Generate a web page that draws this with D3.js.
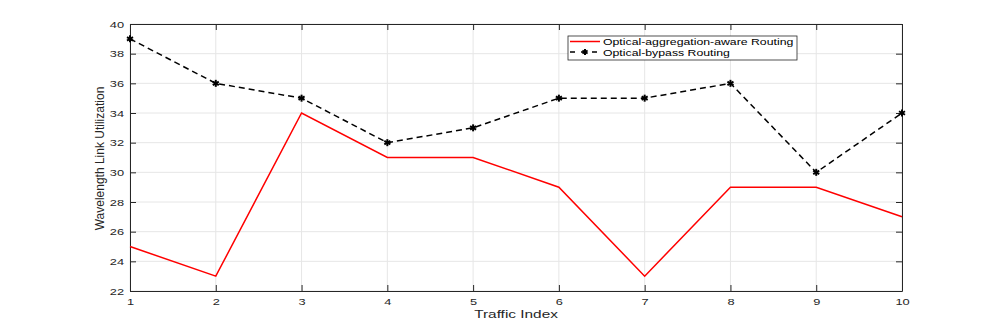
<!DOCTYPE html>
<html>
<head>
<meta charset="utf-8">
<script src="https://cdn.jsdelivr.net/npm/d3@7"></script>
<style>
  body { margin: 0; background: #fff; }
  svg { font-family: "Liberation Sans", Arial, sans-serif; }
</style>
</head>
<body>
<svg id="chart"></svg>
<script>
// data
var trafficIndex = [1, 2, 3, 4, 5, 6, 7, 8, 9, 10];
var aggregationAware = [25, 23, 34, 31, 31, 29, 23, 29, 29, 27];
var bypass = [39, 36, 35, 32, 33, 35, 35, 36, 30, 34];
var yTicks = [22, 24, 26, 28, 30, 32, 34, 36, 38, 40];
var seriesNames = ["Optical-aggregation-aware Routing", "Optical-bypass Routing"];

var width = 997, height = 327;
var margin = {left: 130, right: 95, top: 24, bottom: 36};
var plotW = width - margin.left - margin.right;
var plotH = height - margin.top - margin.bottom;
var sx = 1.35; // the figure is stretched sideways, text too

var svg = d3.select('#chart').attr('width', width).attr('height', height);

var x = d3.scaleLinear().domain([1, 10]).range([0, plotW]);
var y = d3.scaleLinear().domain([22, 40]).range([plotH, 0]);

var g = svg.append('g').attr('transform', 'translate(' + margin.left + ',' + margin.top + ')');

// grid
g.append('g').selectAll('line').data(trafficIndex).enter().append('line')
  .attr('x1', function(d) { return x(d); }).attr('x2', function(d) { return x(d); })
  .attr('y1', 0).attr('y2', plotH)
  .style('stroke', '#e6e6e6').style('stroke-width', 1);
g.append('g').selectAll('line').data(yTicks).enter().append('line')
  .attr('y1', function(d) { return y(d); }).attr('y2', function(d) { return y(d); })
  .attr('x1', 0).attr('x2', plotW)
  .style('stroke', '#e6e6e6').style('stroke-width', 1);

// axes (ticks inward, box all round)
var tickLen = 6;
function styleAxis(sel) {
  sel.selectAll('.domain').style('stroke', '#262626');
  sel.selectAll('.tick line').style('stroke', '#262626');
  sel.selectAll('text').style('fill', '#262626').style('font-size', '9.5px');
}
g.append('g').attr('transform', 'translate(0,' + plotH + ')')
  .call(d3.axisBottom(x).tickValues(trafficIndex).tickFormat(d3.format('d')).tickSizeInner(-tickLen).tickSizeOuter(0).tickPadding(7))
  .call(styleAxis)
  .selectAll('text').attr('transform', 'scale(' + sx + ',1)');
g.append('g')
  .call(d3.axisLeft(y).tickValues(yTicks).tickSizeInner(-tickLen).tickSizeOuter(0))
  .call(styleAxis)
  .selectAll('text').attr('x', -6 / sx).attr('transform', 'scale(' + sx + ',1)');
g.append('g')
  .call(d3.axisTop(x).tickValues(trafficIndex).tickFormat('').tickSizeInner(-tickLen).tickSizeOuter(0))
  .call(styleAxis);
g.append('g').attr('transform', 'translate(' + plotW + ',0)')
  .call(d3.axisRight(y).tickValues(yTicks).tickFormat('').tickSizeInner(-tickLen).tickSizeOuter(0))
  .call(styleAxis);

// lines
var line = d3.line().x(function(d, i) { return x(trafficIndex[i]); }).y(function(d) { return y(d); });
g.append('path').datum(aggregationAware).attr('d', line)
  .style('fill', 'none').style('stroke', '#ff0000').style('stroke-width', 1.5);
g.append('path').datum(bypass).attr('d', line)
  .style('fill', 'none').style('stroke', '#000').style('stroke-width', 1.5)
  .style('stroke-dasharray', '6,4');

// asterisk markers
function asterisk(sel, r) {
  [0, 60, 120].forEach(function(a) {
    var rad = a * Math.PI / 180;
    sel.append('line')
      .attr('x1', -r * Math.sin(rad)).attr('y1', -r * Math.cos(rad))
      .attr('x2', r * Math.sin(rad)).attr('y2', r * Math.cos(rad))
      .style('stroke', '#000').style('stroke-width', 2);
  });
}
g.append('g').selectAll('g').data(bypass).enter().append('g')
  .attr('transform', function(d, i) { return 'translate(' + x(trafficIndex[i]) + ',' + y(d) + ')'; })
  .each(function() { asterisk(d3.select(this), 3.5); });

// axis labels
svg.append('text')
  .attr('transform', 'translate(' + (margin.left + plotW / 2) + ',318) scale(' + sx + ',1)')
  .attr('text-anchor', 'middle').style('font-size', '11.4px').style('fill', '#262626')
  .text('Traffic Index');
svg.append('text')
  .attr('transform', 'translate(104,' + (margin.top + plotH / 2 + 1) + ') rotate(-90)')
  .attr('text-anchor', 'middle').style('font-size', '12px').style('fill', '#262626')
  .text('Wavelength Link Utilization');

// legend
var lg = svg.append('g').attr('transform', 'translate(568,36)');
lg.append('rect').attr('width', 229).attr('height', 24)
  .style('fill', '#fff').style('stroke', '#262626').style('stroke-width', 0.8);
lg.append('line').attr('x1', 2).attr('x2', 32).attr('y1', 5.5).attr('y2', 5.5)
  .style('stroke', '#ff0000').style('stroke-width', 1.5);
lg.append('line').attr('x1', 2).attr('x2', 32).attr('y1', 16).attr('y2', 16)
  .style('stroke', '#000').style('stroke-width', 1.5).style('stroke-dasharray', '5,6');
lg.append('g').attr('transform', 'translate(17,16)').call(asterisk, 3);
lg.selectAll('text.lab').data(seriesNames).enter().append('text')
  .attr('transform', function(d, i) { return 'translate(35,' + (9 + i * 10.5) + ') scale(' + sx + ',1)'; })
  .style('font-size', '9.1px').style('fill', '#000')
  .text(function(d) { return d; });
</script>
</body>
</html>
